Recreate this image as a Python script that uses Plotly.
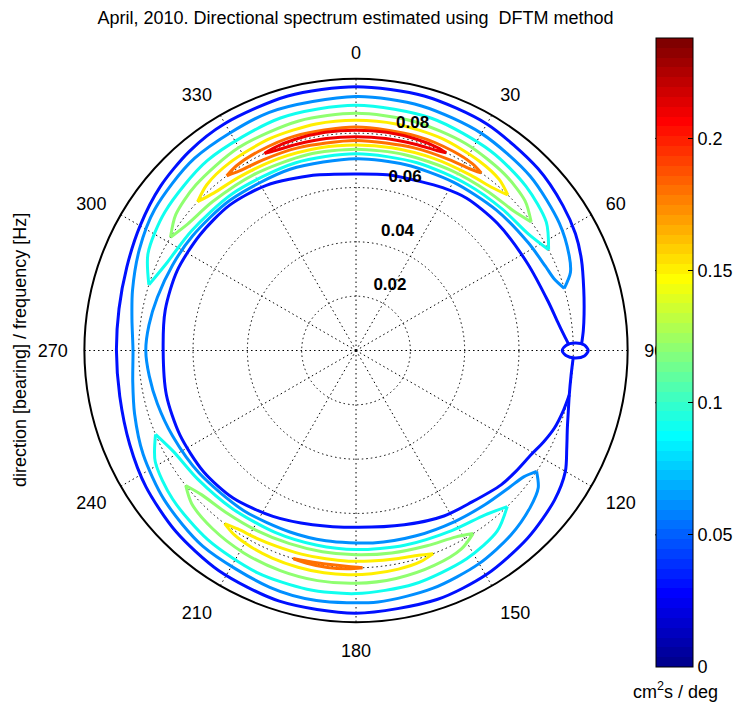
import plotly.graph_objects as go

# ---------------------------------------------------------------------------
# Data
# ---------------------------------------------------------------------------
levels = [0.03, 0.06, 0.09, 0.12, 0.15, 0.18, 0.21]   # contour levels, cm^2 s / deg
c_min, c_max = 0.0, 0.238                              # colour range of the spectrum

ring_ticks = [0.02, 0.04, 0.06, 0.08, 0.1]             # frequency rings [Hz]
ring_labels = ["<b>0.02</b>", "<b>0.04</b>", "<b>0.06</b>", "<b>0.08</b>", "0.1"]
bearing_ticks = list(range(0, 360, 30))
cbar_ticks = [0, 0.05, 0.1, 0.15, 0.2]
cbar_ticktext = ["0", "0.05", "0.1", "0.15", "0.2"]

# Contour paths as (bearing [deg], frequency [Hz]).
# level 0.03 : outer boundary, inner boundary and the small loop near 90 deg
c003_outer = [(91.9, 0.0800), (96.5, 0.0797), (101.8, 0.0802), (106, 0.0813), (110.2, 0.0829),
              (115, 0.0856), (120, 0.0890), (127, 0.0915), (137.5, 0.0936), (149.6, 0.0954),
              (162, 0.0964), (180, 0.0967), (197, 0.0965), (212, 0.0955), (225, 0.0940),
              (237, 0.0922), (247.5, 0.0902), (259, 0.0886), (270, 0.0882), (280, 0.0886),
              (290, 0.0898), (300, 0.0918), (310, 0.0940), (320, 0.0956), (330, 0.0965),
              (345, 0.0970), (0, 0.0971), (15, 0.0970), (30, 0.0963), (45, 0.0947),
              (55, 0.0930), (62, 0.0915), (68, 0.0895), (75, 0.0868), (81, 0.0850),
              (85, 0.0840), (88.3, 0.0831)]
c003_inner = [(101.8, 0.0802), (106, 0.0795), (111.4, 0.0784), (116, 0.0768), (120.8, 0.0750),
              (127, 0.0738), (132.8, 0.0728), (142.7, 0.0702), (152, 0.0690), (164.5, 0.0666),
              (180, 0.0651), (194, 0.0661), (206.6, 0.0683), (219.8, 0.0707), (231.6, 0.0717),
              (244.4, 0.0719), (256.8, 0.0717), (270, 0.0710), (282, 0.0718), (294, 0.0721),
              (306.4, 0.0715), (319, 0.0709), (331.5, 0.0692), (346.2, 0.0664), (0, 0.0650),
              (10, 0.0657), (21, 0.0666), (28, 0.0679), (36, 0.0693), (48, 0.0700),
              (63, 0.0708), (75.7, 0.0730), (82, 0.0750), (86, 0.0769), (88.3, 0.0783)]
c003_loop = [(90, 0.0855), (91.39, 0.0841), (91.96, 0.0807), (91.39, 0.0773), (90, 0.0759),
             (88.61, 0.0773), (88.04, 0.0807), (88.61, 0.0841), (90, 0.0855)]

# level 0.06 : one band open towards the east
c006_outer = [(73.4, 0.0800), (70, 0.0840), (66, 0.0859), (58, 0.0883), (45, 0.0907),
              (30, 0.0923), (15, 0.0932), (0, 0.0935), (340, 0.0933), (320, 0.0924),
              (305, 0.0905), (295, 0.0880), (285, 0.0852), (278, 0.0833), (270, 0.0821),
              (262, 0.0830), (254, 0.0848), (244, 0.0872), (232, 0.0895), (218, 0.0915),
              (200, 0.0928), (189, 0.0932), (175, 0.0929), (162, 0.0920), (150, 0.0906),
              (140, 0.0887), (132, 0.0863), (127, 0.0840), (123.8, 0.0800)]
c006_inner = [(123.8, 0.0800), (127, 0.0773), (132, 0.0756), (140, 0.0740), (150, 0.0727),
              (162, 0.0717), (175, 0.0711), (189, 0.0709), (200, 0.0711), (215, 0.0720),
              (232, 0.0733), (245, 0.0745), (255, 0.0757), (263, 0.0767), (270, 0.0774),
              (277, 0.0768), (285, 0.0757), (295, 0.0745), (305, 0.0735), (320, 0.0722),
              (340, 0.0710), (0, 0.0706), (15, 0.0708), (30, 0.0716), (45, 0.0731),
              (58, 0.0748), (66, 0.0763), (70, 0.0775), (73.4, 0.0800)]

# northern lobe
n009_outer = [(-72.4, 0.0800), (-65, 0.0845), (-54, 0.0869), (-38, 0.0888), (-18, 0.0900),
              (0, 0.0903), (18, 0.0899), (34, 0.0886), (46, 0.0870), (56, 0.0845), (62.4, 0.0800)]
n009_inner = [(62.4, 0.0800), (56, 0.0766), (46, 0.0749), (34, 0.0736), (18, 0.0727),
              (0, 0.0724), (-18, 0.0726), (-38, 0.0735), (-54, 0.0749), (-65, 0.0767), (-72.4, 0.0800)]
n012_outer = [(-58.6, 0.0800), (-53, 0.0831), (-44, 0.0848), (-30, 0.0863), (-14, 0.0871),
              (0, 0.0873), (14, 0.0870), (28, 0.0862), (40, 0.0849), (48.5, 0.0831), (53.7, 0.0800)]
n012_inner = [(53.7, 0.0800), (48.5, 0.0775), (40, 0.0761), (28, 0.0750), (14, 0.0743),
              (0, 0.0741), (-14, 0.0743), (-30, 0.0749), (-44, 0.0761), (-53, 0.0775), (-58.6, 0.0800)]
n015_outer = [(-46.8, 0.0800), (-42, 0.0821), (-34, 0.0833), (-22, 0.0842), (-10, 0.0847),
              (0, 0.0848), (10, 0.0847), (22, 0.0842), (33, 0.0832), (40, 0.0821), (44.3, 0.0800)]
n015_inner = [(44.3, 0.0800), (40, 0.0782), (33, 0.0771), (22, 0.0763), (10, 0.0758),
              (0, 0.0757), (-10, 0.0758), (-22, 0.0762), (-34, 0.0770), (-42, 0.0781), (-46.8, 0.0800)]
n018_outer = [(-36.5, 0.0800), (-33, 0.0810), (-26, 0.0816), (-16, 0.0821), (0, 0.0823),
              (16, 0.0820), (26, 0.0816), (32, 0.0810), (35.2, 0.0800)]
n018_inner = [(35.2, 0.0800), (32, 0.0789), (26, 0.0782), (16, 0.0776), (0, 0.0773),
              (-16, 0.0776), (-26, 0.0781), (-33, 0.0788), (-36.5, 0.0800)]
n021_outer = [(-24.9, 0.0800), (-22, 0.0805), (-16, 0.0809), (-8, 0.0811), (0, 0.0811),
              (8, 0.0811), (16, 0.0809), (22, 0.0805), (24.5, 0.0800)]
n021_inner = [(24.5, 0.0800), (22, 0.0794), (16, 0.0790), (8, 0.0788), (0, 0.0787),
              (-8, 0.0788), (-16, 0.0790), (-22, 0.0794), (-24.9, 0.0800)]

# southern lobe
s009_outer = [(135.9, 0.0800), (142, 0.0844), (152, 0.0868), (166, 0.0886), (180, 0.0895),
              (191.6, 0.0897), (204, 0.0895), (218, 0.0885), (231, 0.0869), (241, 0.0845), (247.3, 0.0800)]
s009_inner = [(247.3, 0.0800), (241, 0.0768), (231, 0.0751), (218, 0.0739), (204, 0.0733),
              (191.6, 0.0731), (180, 0.0733), (166, 0.0739), (152, 0.0751), (142, 0.0769), (135.9, 0.0800)]
s012_outer = [(147.4, 0.0800), (152, 0.0827), (160, 0.0842), (170, 0.0852), (180, 0.0857),
              (189.5, 0.0859), (199, 0.0857), (209, 0.0852), (219, 0.0842), (227, 0.0827), (231.6, 0.0800)]
s012_inner = [(231.6, 0.0800), (227, 0.0778), (219, 0.0765), (209, 0.0757), (199, 0.0752),
              (189.5, 0.0751), (180, 0.0752), (170, 0.0757), (160, 0.0765), (152, 0.0778), (147.4, 0.0800)]
s015_outer = [(159.2, 0.0800), (163, 0.0813), (169, 0.0820), (176, 0.0824), (182, 0.0826),
              (188.2, 0.0827), (195, 0.0826), (202, 0.0824), (208, 0.0820), (213.5, 0.0813), (217.2, 0.0800)]
s015_inner = [(217.2, 0.0800), (213.5, 0.0788), (208, 0.0782), (202, 0.0778), (195, 0.0776),
              (188.2, 0.0775), (182, 0.0776), (176, 0.0777), (169, 0.0781), (163, 0.0788), (159.2, 0.0800)]
s018_outer = [(178.3, 0.0800), (182, 0.0804), (187.5, 0.0806), (193, 0.0804), (196.8, 0.0800)]
s018_inner = [(196.8, 0.0800), (193, 0.0796), (187.5, 0.0794), (182, 0.0796), (178.3, 0.0800)]

contours = [
    (0.03, c003_outer), (0.03, c003_inner), (0.03, c003_loop),
    (0.06, c006_outer), (0.06, c006_inner),
    (0.09, n009_outer), (0.09, n009_inner), (0.09, s009_outer), (0.09, s009_inner),
    (0.12, n012_outer), (0.12, n012_inner), (0.12, s012_outer), (0.12, s012_inner),
    (0.15, n015_outer), (0.15, n015_inner), (0.15, s015_outer), (0.15, s015_inner),
    (0.18, n018_outer), (0.18, n018_inner), (0.18, s018_outer), (0.18, s018_inner),
    (0.21, n021_outer), (0.21, n021_inner),
]

# ---------------------------------------------------------------------------
# 64-step jet colour map
# ---------------------------------------------------------------------------
def jet64():
    n = 16
    u = [(i + 1) / n for i in range(n)] + [1.0] * (n - 1) + [(n - i) / n for i in range(n)]
    rows = [[0.0, 0.0, 0.0] for _ in range(64)]
    g0 = 8
    for k, val in enumerate(u):
        for ch, start in ((1, g0), (0, g0 + n), (2, g0 - n)):
            idx = start + k
            if 0 <= idx < 64:
                rows[idx][ch] = val
    return ["rgb(%d,%d,%d)" % tuple(round(255 * c) for c in row) for row in rows]


JET = jet64()


def level_colour(v):
    i = int((v - c_min) / (c_max - c_min) * 64)
    return JET[max(0, min(63, i))]


jet_scale = []
for i, col in enumerate(JET):
    jet_scale.append([i / 64, col])
    jet_scale.append([(i + 1) / 64, col])

FONT = "Arial, Liberation Sans, Helvetica, sans-serif"

# colour bar placement (paper fractions)
CB_X, CB_TOP, CB_LEN = 656 / 738, (704 - 38) / 704, 629 / 704

# ---------------------------------------------------------------------------
# Figure
# ---------------------------------------------------------------------------
fig = go.Figure()

for lev, path in contours:
    fig.add_trace(go.Scatterpolar(
        theta=[p[0] for p in path], r=[p[1] for p in path],
        mode="lines", line=dict(color=level_colour(lev), width=3, shape="spline", smoothing=0.8),
        hoverinfo="skip", showlegend=False))

# frequency ring labels
fig.add_trace(go.Scatterpolar(
    r=[t + 0.001 for t in ring_ticks], theta=[8] * len(ring_ticks),
    text=["\u00a0\u00a0" + s for s in ring_labels], mode="text", textposition="top right",
    textfont=dict(family=FONT, size=17, color="black"), cliponaxis=False,
    hoverinfo="skip", showlegend=False))

# colour bar carrier
fig.add_trace(go.Scatterpolar(
    r=[0], theta=[0], mode="markers",
    marker=dict(size=1, opacity=0, color=[0], cmin=c_min, cmax=c_max, colorscale=jet_scale,
                showscale=True,
                colorbar=dict(thickness=37, thicknessmode="pixels", len=629, lenmode="pixels",
                              x=CB_X, xanchor="left", xpad=0, y=CB_TOP,
                              yanchor="top", ypad=0, outlinewidth=1, outlinecolor="black",
                              tickmode="array", tickvals=cbar_ticks, ticktext=cbar_ticktext,
                              ticks="inside", ticklen=5, tickcolor="black",
                              tickfont=dict(family=FONT, size=18, color="black"))),
    hoverinfo="skip", showlegend=False))

# tick marks on the left edge of the colour bar
cb_shapes = []
for v in cbar_ticks[1:]:
    yv = CB_TOP - CB_LEN + (v - c_min) / (c_max - c_min) * CB_LEN
    cb_shapes.append(dict(type="line", xref="paper", yref="paper",
                          x0=CB_X, x1=CB_X + 5 / 738, y0=yv, y1=yv,
                          line=dict(color="black", width=1)))

grid_dash = "1.5px,3px"
fig.update_layout(
    width=738, height=704, autosize=False,
    margin=dict(l=0, r=0, t=0, b=0),
    paper_bgcolor="white", plot_bgcolor="white",
    font=dict(family=FONT, size=18, color="black"),
    title=dict(text="April, 2010. Directional spectrum estimated using\u00a0 DFTM method",
               x=355.5 / 738, xanchor="center", y=(704 - 18) / 704, yanchor="middle",
               font=dict(family=FONT, size=18, color="black")),
    polar=dict(
        domain=dict(x=[84.5 / 738, 628.5 / 738], y=[81.5 / 704, 625.5 / 704]),
        bgcolor="white",
        angularaxis=dict(direction="clockwise", rotation=90,
                         tickmode="array", tickvals=bearing_ticks,
                         ticktext=[str(b) for b in bearing_ticks],
                         tickfont=dict(family=FONT, size=18, color="black"),
                         ticks="outside", ticklen=12, tickcolor="rgba(0,0,0,0)",
                         showline=True, linecolor="black", linewidth=2,
                         showgrid=True, gridcolor="black", gridwidth=1, griddash=grid_dash),
        radialaxis=dict(range=[0, 0.1], tickmode="array", tickvals=ring_ticks[:-1],
                        showticklabels=False, ticks="", showline=False,
                        showgrid=True, gridcolor="black", gridwidth=1, griddash=grid_dash),
    ),
    shapes=cb_shapes,
    annotations=[
        dict(text="cm<sup>2</sup>s / deg", x=676 / 738, y=(704 - 690) / 704,
             xref="paper", yref="paper", xanchor="center", yanchor="middle",
             showarrow=False, font=dict(family=FONT, size=18, color="black")),
        dict(text="direction [bearing] / frequency [Hz]", textangle=-90,
             x=20 / 738, y=(704 - 350) / 704, xref="paper", yref="paper",
             xanchor="center", yanchor="middle", showarrow=False,
             font=dict(family=FONT, size=18, color="black")),
    ],
)

fig.write_html("out.html")
